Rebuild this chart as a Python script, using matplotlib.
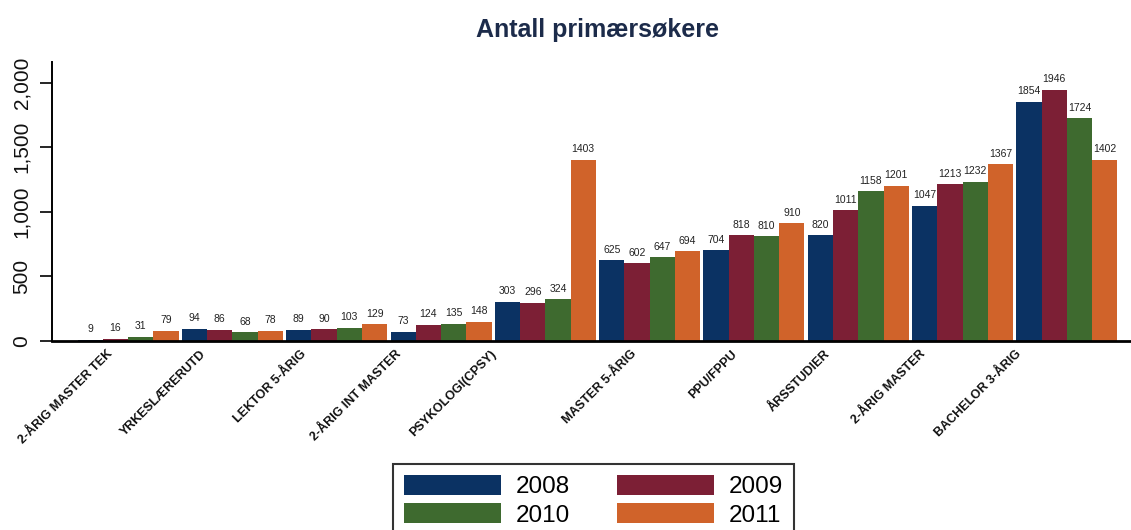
import matplotlib
matplotlib.use("Agg")
import matplotlib.pyplot as plt
import numpy as np
from matplotlib import font_manager
from matplotlib.transforms import ScaledTranslation

names = {f.name for f in font_manager.fontManager.ttflist}
FONT = "Liberation Sans" if "Liberation Sans" in names else "DejaVu Sans"
plt.rcParams["font.family"] = [FONT, "DejaVu Sans"]

categories = ["2-ÅRIG MASTER TEK", "YRKESLÆRERUTD", "LEKTOR 5-ÅRIG", "2-ÅRIG INT MASTER",
              "PSYKOLOGI(CPSY)", "MASTER 5-ÅRIG", "PPU/FPPU", "ÅRSSTUDIER",
              "2-ÅRIG MASTER", "BACHELOR 3-ÅRIG"]
years = ["2008", "2009", "2010", "2011"]
v2008 = [9, 94, 89, 73, 303, 625, 704, 820, 1047, 1854]
v2009 = [16, 86, 90, 124, 296, 602, 818, 1011, 1213, 1946]
v2010 = [31, 68, 103, 135, 324, 647, 810, 1158, 1232, 1724]
v2011 = [79, 78, 129, 148, 1403, 694, 910, 1201, 1367, 1402]
series = [v2008, v2009, v2010, v2011]
colors = ["#0b3263", "#7c1f35", "#3e6a2f", "#d0632a"]
yticks = [0, 500, 1000, 1500, 2000]

# horizontal nudges of the rotated category labels (pixels), a layout quirk of the source
label_dx_px = [-22, -32, -36, -46, -55, -19, -23, -34, -43, -52]

W, H = 1131, 530
fig = plt.figure(figsize=(W / 100, H / 100), dpi=100)
fig.patch.set_facecolor("white")
ax = fig.add_axes([52 / W, 1 - 341 / H, (W - 52) / W, (341 - 62) / H])

x = np.arange(len(categories))
bw = 0.242
handles = []
for k, (vals, c, yr) in enumerate(zip(series, colors, years)):
    bars = ax.bar(x + (k - 1.5) * bw, vals, width=bw, color=c, label=yr,
                  edgecolor="none")
    handles.append(bars)
    ax.bar_label(bars, labels=[str(v) for v in vals], padding=4,
                 fontsize=7.5, color="#222222")

ax.set_xlim(-0.729, 9.614)
ax.set_ylim(0, 2160)
ax.set_yticks(yticks)
ax.set_yticklabels([f"{v:,}" for v in yticks], rotation=90, va="center",
                   fontsize=15, color="#111111")
ax.tick_params(axis="y", length=9, width=1.2, pad=6)
ax.set_xticks(x)
ax.set_xticklabels(categories, rotation=45, ha="right", rotation_mode="anchor",
                   fontsize=9, fontweight="bold", color="#111111")
ax.tick_params(axis="x", length=0, pad=5)
for lab, dx in zip(ax.get_xticklabels(), label_dx_px):
    lab.set_transform(lab.get_transform() +
                      ScaledTranslation(dx / 100, 0, fig.dpi_scale_trans))

for s in ["top", "right"]:
    ax.spines[s].set_visible(False)
ax.spines["left"].set_linewidth(1.4)
ax.spines["bottom"].set_linewidth(2.0)
ax.set_facecolor("white")

fig.text(597 / W, 1 - 30 / H, "Antall primærsøkere", ha="center", va="center",
         fontsize=18, fontweight="bold", color="#1c2b4a")

order = [0, 2, 1, 3]
leg = fig.legend([handles[i] for i in order], [years[i] for i in order],
                 loc="upper left", bbox_to_anchor=(393 / W, 1 - 464 / H),
                 bbox_transform=fig.transFigure, ncol=2, fontsize=17.5,
                 frameon=True, fancybox=False, edgecolor="black",
                 handlelength=4.0, handleheight=0.9, handletextpad=0.62,
                 columnspacing=1.9, labelspacing=0.2, borderpad=0.45,
                 borderaxespad=0)
leg.get_frame().set_linewidth(1.5)

fig.savefig("out.png", dpi=100)
